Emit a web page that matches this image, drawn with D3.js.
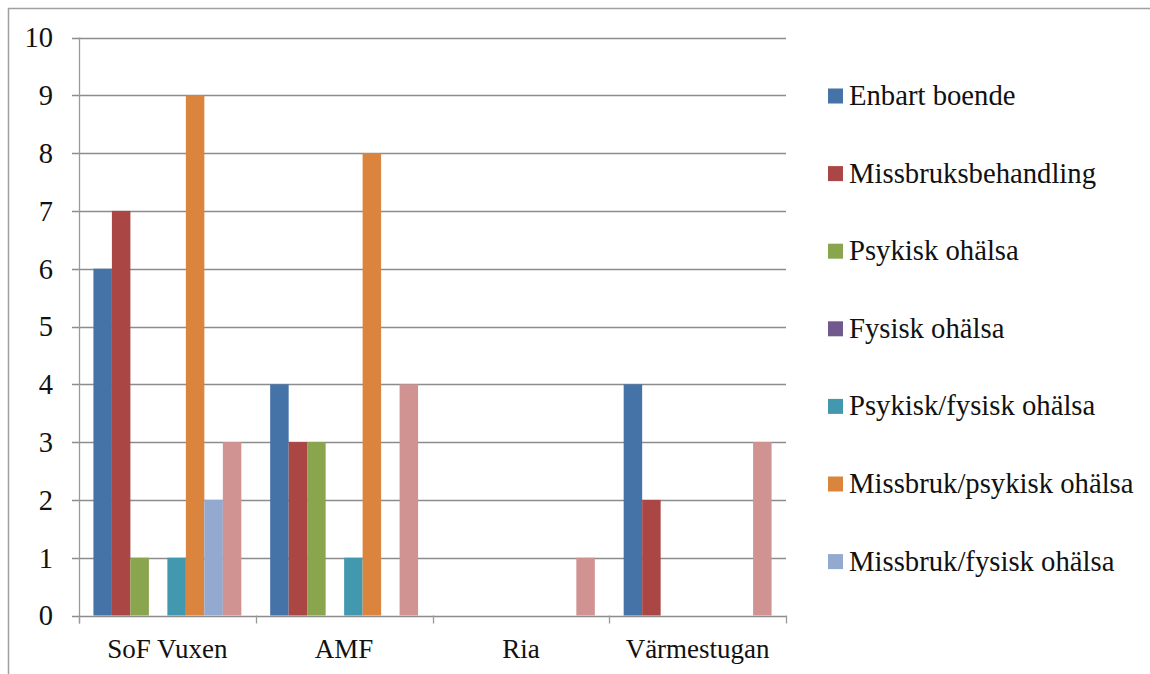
<!DOCTYPE html>
<html><head><meta charset="utf-8">
<script src="https://cdn.jsdelivr.net/npm/d3@7"></script>
<style>body{margin:0;background:#fff;}svg{display:block;}</style>
</head><body><svg id="c" width="1150" height="674"></svg>
<script>
const categories = ["SoF Vuxen", "AMF", "Ria", "Värmestugan"];
const seriesNames = ["Enbart boende", "Missbruksbehandling", "Psykisk ohälsa", "Fysisk ohälsa",
  "Psykisk/fysisk ohälsa", "Missbruk/psykisk ohälsa", "Missbruk/fysisk ohälsa", "Missbruk/psykisk/fysisk ohälsa"];
const colors = ["#4572A7", "#AA4643", "#89A54E", "#71588F", "#4198AF", "#DB843D", "#93A9CF", "#D19392"];
const enbartBoende = [6, 4, 0, 4];
const missbruksbehandling = [7, 3, 0, 2];
const psykiskOhalsa = [1, 3, 0, 0];
const fysiskOhalsa = [0, 0, 0, 0];
const psykiskFysisk = [1, 1, 0, 0];
const missbrukPsykisk = [9, 8, 0, 0];
const missbrukFysisk = [2, 0, 0, 0];
const missbrukPsykiskFysisk = [3, 4, 1, 3];
const yTicks = [0,1,2,3,4,5,6,7,8,9,10];
const legendShown = 7;

const seriesValues = [enbartBoende, missbruksbehandling, psykiskOhalsa, fysiskOhalsa,
  psykiskFysisk, missbrukPsykisk, missbrukFysisk, missbrukPsykiskFysisk];

const svg = d3.select("#c");
const font = "'Liberation Serif', 'DejaVu Serif', serif";
const L = 79, R = 786, T = 37.5, B = 615.5;

// frame
svg.append("path").attr("d", "M8.5,674 V8.5 H1150").attr("fill", "none")
  .attr("stroke", "#a0a0a0").attr("stroke-width", 1.5);

const y = d3.scaleLinear().domain([0, 10]).range([B, T]);
const x0 = d3.scaleBand().domain(categories).range([L, R]).padding(0);
const x1 = d3.scaleBand().domain(d3.range(seriesNames.length)).range([0, x0.bandwidth()])
  .paddingInner(0).paddingOuter(0.78);

// gridlines
svg.append("g").selectAll("line").data(yTicks).join("line")
  .attr("x1", L - 7).attr("x2", R).attr("y1", d => Math.round(y(d)) + 0.5).attr("y2", d => Math.round(y(d)) + 0.5)
  .attr("stroke", "#8c8c8c").attr("stroke-width", 1.3);

// y axis line
svg.append("line").attr("x1", L + 0.5).attr("x2", L + 0.5).attr("y1", T).attr("y2", B + 8)
  .attr("stroke", "#9a9a9a").attr("stroke-width", 1.3);

// x ticks at category boundaries
const bounds = categories.map(c => x0(c)).concat([x0(categories[categories.length - 1]) + x0.bandwidth()]);
svg.append("g").selectAll("line").data(bounds).join("line")
  .attr("x1", d => Math.round(d) + 0.5).attr("x2", d => Math.round(d) + 0.5)
  .attr("y1", B).attr("y2", B + 8).attr("stroke", "#9a9a9a").attr("stroke-width", 1.3);

// bars
const bars = [];
categories.forEach((c, ci) => seriesValues.forEach((vals, si) => bars.push({c, si, v: vals[ci]})));
svg.append("g").selectAll("rect").data(bars.filter(d => d.v > 0)).join("rect")
  .attr("x", d => x0(d.c) + x1(d.si)).attr("width", x1.bandwidth())
  .attr("y", d => y(d.v)).attr("height", d => y(0) - y(d.v))
  .attr("fill", d => colors[d.si]);

// y labels
svg.append("g").selectAll("text").data(yTicks).join("text")
  .attr("x", 53).attr("y", d => y(d)).attr("dy", "0.35em").attr("text-anchor", "end")
  .attr("font-family", font).attr("font-size", 28.5).attr("fill", "#111").text(d => d);

// x labels
svg.append("g").selectAll("text").data(categories).join("text")
  .attr("x", d => x0(d) + x0.bandwidth() / 2).attr("y", 658).attr("text-anchor", "middle")
  .attr("font-family", font).attr("font-size", 27).attr("fill", "#111").text(d => d);

// legend
const lg = svg.append("g").selectAll("g").data(seriesNames.slice(0, legendShown)).join("g")
  .attr("transform", (d, i) => `translate(828,${96 + i * 77.6})`);
lg.append("rect").attr("x", 0).attr("y", -7.5).attr("width", 15).attr("height", 15)
  .attr("fill", (d, i) => colors[i]);
lg.append("text").attr("x", 21).attr("y", 9).attr("font-family", font).attr("font-size", 28.7)
  .attr("fill", "#111").text(d => d);
</script></body></html>
